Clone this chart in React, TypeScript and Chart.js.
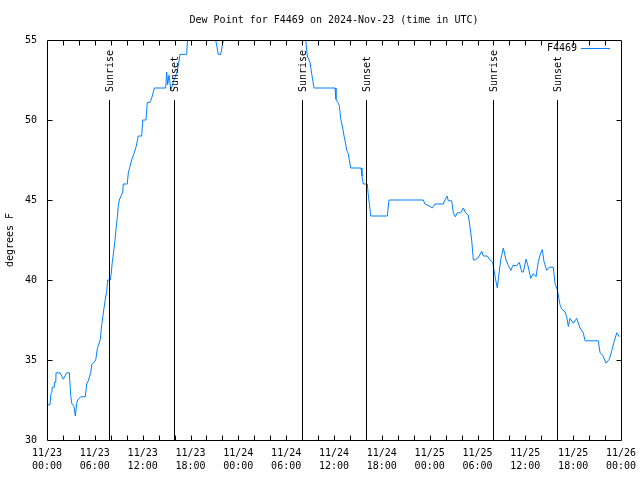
import React, { useEffect, useRef } from "react";
import { Chart, registerables } from "chart.js";

Chart.register(...registerables);

// Hours since 2024-11-23 00:00 UTC
const hours = [
  0.0, 0.37, 0.5, 0.62, 0.66, 0.9, 0.92, 1.1, 1.13, 1.63, 2.05, 2.47, 2.8, 2.97, 3.1, 3.39, 3.55, 3.73, 3.85,
  4.23, 4.8, 4.98, 5.18, 5.48, 5.61, 6.11, 6.31, 6.69, 6.86, 7.03, 7.28, 7.49, 7.61, 7.94, 8.07, 8.19, 8.37,
  8.53, 8.66, 8.82, 8.94, 9.07, 9.5, 9.57, 10.07, 10.2, 10.41, 10.62, 10.91, 11.16, 11.45, 11.88, 12.0, 12.42,
  12.58, 12.92, 13.21, 13.46, 14.89, 15.01, 15.14, 15.3, 15.55, 15.93, 16.31, 16.5, 16.68, 17.52, 17.65, 18.2,
  19.5, 20.6, 21.1, 21.16, 21.49, 21.79, 22.12, 22.2, 24.0, 27.0, 30.0, 32.2, 32.45, 32.65, 32.99, 33.2, 33.33,
  33.49, 36.13, 36.25, 36.47, 36.67, 36.84, 37.09, 37.26, 37.47, 37.59, 37.79, 37.92, 38.1, 39.39, 39.51, 39.68,
  40.18, 40.3, 40.43, 40.6, 42.69, 42.9, 47.2, 47.42, 48.04, 48.33, 48.67, 49.71, 49.92, 50.18, 50.34, 50.76,
  50.97, 51.22, 51.47, 51.89, 52.22, 52.52, 52.85, 53.06, 53.27, 53.48, 53.69, 54.1, 54.53, 54.73, 55.23, 55.57,
  55.91, 56.07, 56.28, 56.49, 56.7, 56.91, 57.24, 57.58, 57.87, 58.2, 58.42, 58.92, 59.25, 59.55, 59.75, 60.09,
  60.3, 60.68, 61.0, 61.34, 61.63, 61.93, 62.13, 62.34, 62.68, 63.01, 63.51, 63.72, 64.01, 64.35, 64.56, 64.98,
  65.19, 65.39, 65.6, 66.02, 66.44, 66.86, 67.27, 67.49, 69.15, 69.37, 69.7, 70.12, 70.54, 70.85, 71.14, 71.47,
  71.8,
];

// Dew point, degrees F
const dewPoint = [
  32.2, 32.2, 32.9, 33.0, 33.3, 33.3, 33.6, 33.6, 34.2, 34.2, 33.8, 34.2, 34.2, 32.8, 32.3, 32.1, 31.5, 32.3, 32.5,
  32.7, 32.7, 33.5, 33.7, 34.2, 34.7, 35.0, 35.7, 36.3, 37.2, 37.8, 38.7, 39.3, 40.0, 40.0, 40.5, 41.1, 41.8,
  42.5, 43.2, 43.9, 44.6, 45.0, 45.5, 46.0, 46.0, 46.7, 47.1, 47.5, 47.9, 48.3, 49.0, 49.0, 50.0, 50.0,
  51.1, 51.1, 51.5, 52.0, 52.0, 53.0, 52.2, 52.8, 51.9, 52.5, 53.0, 53.5, 54.1, 54.1, 55.3, 56.0,
  56.5, 56.0, 55.2, 55.0, 54.1, 54.1, 55.0, 55.4, 56.5, 57.0, 56.5, 55.5, 55.0, 54.0, 53.6, 52.9, 52.5,
  52.0, 52.0, 51.3, 51.1, 50.9, 50.1, 49.5, 49.0, 48.5, 48.1, 47.9, 47.5, 47.0, 47.0, 46.5, 46.0,
  46.0, 45.3, 44.8, 44.0, 44.0, 45.0, 45.0, 44.75, 44.6, 44.5, 44.75, 44.75, 45.0, 45.25, 44.95, 44.95,
  44.2, 43.95, 44.2, 44.2, 44.5, 44.2, 44.05, 43.3, 42.5, 41.25, 41.25, 41.4, 41.8, 41.5, 41.5, 41.25,
  41.1, 40.6, 40.0, 39.5, 40.4, 41.25, 42.0, 41.25, 40.9, 40.6, 40.9, 40.9, 41.1, 40.5, 40.5, 41.3,
  40.95, 40.1, 40.4, 40.2, 41.15, 41.7, 41.9, 41.15, 40.6, 40.8, 40.8, 39.8, 39.4, 38.45, 38.2, 38.0,
  37.7, 37.1, 37.6, 37.3, 37.6, 37.0, 36.7, 36.2, 36.2, 35.45, 35.3, 34.8, 35.05, 35.6, 36.15, 36.7,
  36.45,
];

const tickDates = ["11/23", "11/23", "11/23", "11/23", "11/24", "11/24", "11/24", "11/24", "11/25", "11/25", "11/25", "11/25", "11/26"];
const tickTimes = ["00:00", "06:00", "12:00", "18:00", "00:00", "06:00", "12:00", "18:00", "00:00", "06:00", "12:00", "18:00", "00:00"];

const sunHours = [7.8, 15.97, 31.95, 39.97, 55.98, 64.0];
const sunLabels = ["Sunrise", "Sunset", "Sunrise", "Sunset", "Sunrise", "Sunset"];

const seriesName = "F4469";
const titleText = "Dew Point for F4469 on 2024-Nov-23 (time in UTC)";
const yTitle = "degrees F";
const LINE_COLOR = "#0080ff";
const FONT = "'DejaVu Sans Mono', monospace";

const overlay = {
  id: "overlay",
  afterDatasetsDraw(chart: any) {
    const { ctx, chartArea: a, scales } = chart;
    const x = scales.x;
    const y = scales.y;
    ctx.save();
    ctx.strokeStyle = "#000";
    ctx.lineWidth = 1;
    const L = Math.round(a.left) + 0.5;
    const R = Math.round(a.right) + 0.5;
    const T = Math.round(a.top) + 0.5;
    const B = Math.round(a.bottom) + 0.5;
    ctx.beginPath();
    ctx.moveTo(L, T); ctx.lineTo(R, T); ctx.lineTo(R, B); ctx.lineTo(L, B); ctx.closePath();
    // x ticks every 2 hours, inward, bottom and top
    for (let h = 2; h < 72; h += 2) {
      const px = Math.round(x.getPixelForValue(h)) + 0.5;
      ctx.moveTo(px, B); ctx.lineTo(px, B - 5);
      ctx.moveTo(px, T); ctx.lineTo(px, T + 5);
    }
    for (let v = 35; v < 55; v += 5) {
      const py = Math.round(y.getPixelForValue(v)) + 0.5;
      ctx.moveTo(L, py); ctx.lineTo(L + 5, py);
      ctx.moveTo(R, py); ctx.lineTo(R - 5, py);
    }
    ctx.stroke();

    // sunrise / sunset markers
    ctx.font = "10px " + FONT;
    ctx.fillStyle = "#000";
    for (let i = 0; i < sunHours.length; i++) {
      const px = Math.round(x.getPixelForValue(sunHours[i])) + 0.5;
      ctx.beginPath();
      ctx.moveTo(px, a.top + 60);
      ctx.lineTo(px, B);
      ctx.stroke();
      ctx.save();
      ctx.translate(px + 1, a.top + 52);
      ctx.rotate(-Math.PI / 2);
      ctx.textAlign = "left";
      ctx.textBaseline = "middle";
      ctx.fillText(sunLabels[i], 0, 0);
      ctx.restore();
    }

    // legend
    ctx.textAlign = "right";
    ctx.textBaseline = "middle";
    ctx.fillText(seriesName, 577, 48);
    ctx.strokeStyle = LINE_COLOR;
    ctx.beginPath();
    ctx.moveTo(581, 48.5);
    ctx.lineTo(610, 48.5);
    ctx.stroke();
    ctx.restore();
  },
};

export default function App() {
  const ref = useRef<HTMLCanvasElement>(null);
  useEffect(() => {
    const chart = new Chart(ref.current as HTMLCanvasElement, {
      type: "line",
      data: {
        datasets: [
          {
            label: seriesName,
            data: hours.map((h, i) => ({ x: h, y: dewPoint[i] })),
            borderColor: LINE_COLOR,
            borderWidth: 1,
            pointRadius: 0,
            fill: false,
            tension: 0,
          },
        ],
      },
      options: {
        animation: false,
        responsive: false,
        devicePixelRatio: 1,
        layout: { padding: { left: 0, right: 19, top: 0, bottom: 0 } },
        plugins: {
          legend: { display: false },
          tooltip: { enabled: false },
          title: {
            display: true,
            text: titleText,
            fullSize: false,
            color: "#000",
            font: { family: FONT, size: 10, weight: "normal" },
            padding: { top: 14, bottom: 14 },
          },
        },
        scales: {
          x: {
            type: "linear",
            min: 0,
            max: 72,
            afterBuildTicks: (s: any) => {
              const t = [];
              for (let h = 0; h <= 72; h += 6) t.push({ value: h });
              s.ticks = t;
            },
            ticks: {
              autoSkip: false,
              maxRotation: 0,
              minRotation: 0,
              padding: 7,
              color: "#000",
              font: { family: FONT, size: 10, lineHeight: 1.3 },
              callback: (v: any) => {
                const i = Math.round(Number(v) / 6);
                return [tickDates[i], tickTimes[i]];
              },
            },
            grid: { display: false, drawTicks: false },
            border: { display: false },
            afterFit: (s: any) => {
              s.height = 40;
              s.paddingLeft = 0;
              s.paddingRight = 0;
            },
          },
          y: {
            min: 30,
            max: 55,
            ticks: {
              stepSize: 5,
              padding: 10,
              color: "#000",
              font: { family: FONT, size: 10 },
            },
            title: {
              display: true,
              text: yTitle,
              color: "#000",
              font: { family: FONT, size: 10 },
              padding: { top: 4, bottom: 0 },
            },
            grid: { display: false, drawTicks: false },
            border: { display: false },
            afterFit: (s: any) => {
              s.width = 47;
              s.paddingTop = 0;
              s.paddingBottom = 0;
            },
          },
        },
      },
      plugins: [overlay],
    } as any);
    return () => chart.destroy();
  }, []);
  return (
    <div style={{ position: "fixed", left: 0, top: 0, width: 640, height: 480, background: "#fff" }}>
      <canvas ref={ref} width={640} height={480} style={{ display: "block" }} />
    </div>
  );
}
